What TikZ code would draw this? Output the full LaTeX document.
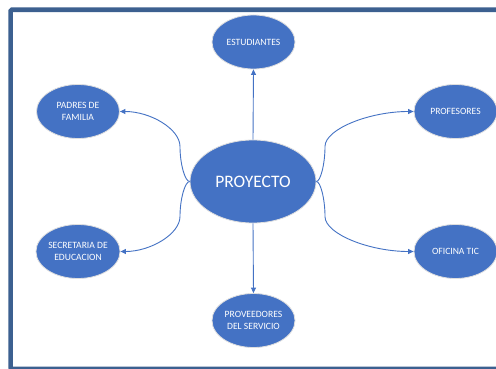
\documentclass[tikz,border=0pt]{standalone}
\usepackage{fontspec}
\setmainfont{Carlito}
\usetikzlibrary{shapes.geometric,arrows.meta}
\definecolor{frameblue}{RGB}{60,96,144}
\definecolor{nodeblue}{RGB}{68,114,196}
\tikzset{
  bubble/.style={ellipse, fill=nodeblue, draw=gray!25, line width=0.8pt, inner sep=0pt,
    minimum width=83pt, minimum height=54pt, text=white, align=center,
    font=\fontsize{9.6}{12}\selectfont},
  hub/.style={bubble, minimum width=126pt, minimum height=83pt, font=\fontsize{17.5}{20}\selectfont},
  link/.style={draw=nodeblue, line width=0.9pt, -{Triangle[length=5.5pt,width=5pt]}}
}
\begin{document}
\begin{tikzpicture}[x=1pt,y=-1pt]
\useasboundingbox (0,0) rectangle (496,369);
\clip (0,0) rectangle (496,369);
\fill[white] (0,0) rectangle (496,369);
\draw[frameblue, line width=4.7pt, rounded corners=1.5pt] (10.6,9.7) rectangle (530,369);

\node[hub] (p) at (253,181.5) {PROYECTO};
\node[bubble] (est) at (253.5,42) {ESTUDIANTES};
\node[bubble] (pad) at (78,111.5) {PADRES DE\\FAMILIA};
\node[bubble] (prof) at (455.5,111.5) {PROFESORES};
\node[bubble] (sec) at (78,251.5) {SECRETARIA DE\\EDUCACION};
\node[bubble] (ofi) at (455.5,251.5) {OFICINA TIC};
\node[bubble] (prov) at (253.5,320.5) {PROVEEDORES\\DEL SERVICIO};

\draw[link] (p.north) -- (est.south);
\draw[link] (p.south) -- (prov.north);
\draw[link] (p.west) .. controls (185,181.5) and (180,164) .. (180,146.5)
  .. controls (180,129) and (150.5,111.5) .. (pad.east);
\draw[link] (p.west) .. controls (185,181.5) and (180,199) .. (180,216.5)
  .. controls (180,234) and (150.5,251.5) .. (sec.east);
\draw[link] (p.east) .. controls (320.5,181.5) and (325,164) .. (325,146.5)
  .. controls (325,129) and (369.5,111.5) .. (prof.west);
\draw[link] (p.east) .. controls (320.5,181.5) and (325,199) .. (325,216.5)
  .. controls (325,234) and (369.5,251.5) .. (ofi.west);
\end{tikzpicture}
\end{document}
